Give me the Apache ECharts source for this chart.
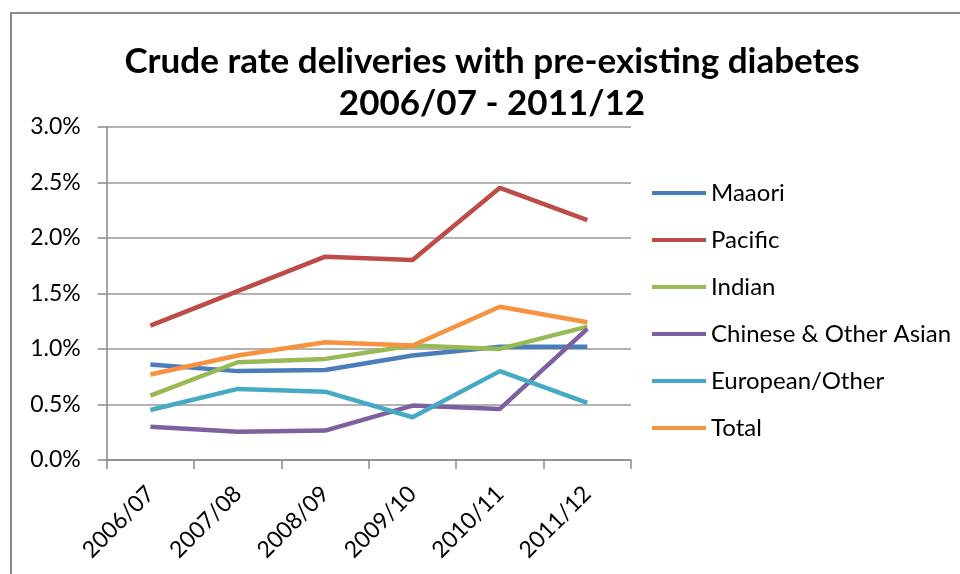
<!DOCTYPE html>
<html>
<head>
<meta charset="utf-8">
<script src="https://cdn.jsdelivr.net/npm/echarts@6/dist/echarts.min.js"></script>
<style>
html,body{margin:0;padding:0;background:#fff;}
#chart{width:960px;height:574px;}
</style>
</head>
<body>
<div id="chart"></div>
<script>
const categories = ['2006/07','2007/08','2008/09','2009/10','2010/11','2011/12'];
const maaori   = [0.86, 0.80, 0.81, 0.94, 1.02, 1.02];
const pacific  = [1.21, 1.52, 1.83, 1.80, 2.45, 2.16];
const indian   = [0.58, 0.88, 0.91, 1.03, 1.00, 1.20];
const chinese  = [0.30, 0.255, 0.265, 0.49, 0.46, 1.18];
const european = [0.45, 0.64, 0.615, 0.385, 0.80, 0.515];
const total    = [0.77, 0.94, 1.06, 1.03, 1.38, 1.24];
const yTicks = [0, 0.5, 1.0, 1.5, 2.0, 2.5, 3.0];

const seriesDefs = [
  {name:'Maaori', data:maaori, color:'#4A7EBB'},
  {name:'Pacific', data:pacific, color:'#BE4B48'},
  {name:'Indian', data:indian, color:'#98B954'},
  {name:'Chinese & Other Asian', data:chinese, color:'#7D60A0'},
  {name:'European/Other', data:european, color:'#46AAC5'},
  {name:'Total', data:total, color:'#F69240'}
];

const font = 'Lato';
const chart = echarts.init(document.getElementById('chart'), null, {renderer:'canvas'});
chart.setOption({
  animation:false,
  backgroundColor:'#fff',
  graphic:[{
    type:'rect', shape:{x:11, y:13, width:1000, height:1000},
    style:{fill:'none', stroke:'#8a8a8a', lineWidth:2}, silent:true
  }],
  title:{
    text:'Crude rate deliveries with pre-existing diabetes\n2006/07 - 2011/12',
    left:487, top:36, textAlign:'center',
    textStyle:{fontFamily:font, fontWeight:'bold', fontSize:35, color:'#000', lineHeight:42}
  },
  legend:{
    orient:'vertical', left:647, top:176,
    itemWidth:54, itemHeight:4, itemGap:23,
    icon:'rect',
    textStyle:{fontFamily:font, fontSize:24, color:'#000', lineHeight:24},
    data:seriesDefs.map(s=>({name:s.name, icon:'rect'}))
  },
  grid:{left:106.7, right:329, top:126.7, bottom:114, containLabel:false},
  xAxis:{
    type:'category', data:categories, boundaryGap:true,
    axisLine:{lineStyle:{color:'#8a8a8a', width:1.5}},
    axisTick:{show:true, length:9, lineStyle:{color:'#8a8a8a', width:1.5}},
    axisLabel:{rotate:45, margin:30, fontFamily:font, fontSize:23, color:'#000'}
  },
  yAxis:{
    type:'value', min:0, max:3, interval:0.5,
    axisLine:{show:true, lineStyle:{color:'#8a8a8a', width:1.5}},
    axisTick:{show:true, length:9, lineStyle:{color:'#8a8a8a', width:1.5}},
    splitLine:{lineStyle:{color:'#9a9a9a', width:1.5}},
    axisLabel:{margin:26, fontFamily:font, fontSize:23, color:'#000',
      formatter:v=>v.toFixed(1)+'%'}
  },
  series:seriesDefs.map(s=>({
    name:s.name, type:'line', data:s.data, symbol:'none', showSymbol:false,
    lineStyle:{color:s.color, width:4.5}, itemStyle:{color:s.color}
  }))
});
</script>
</body>
</html>
